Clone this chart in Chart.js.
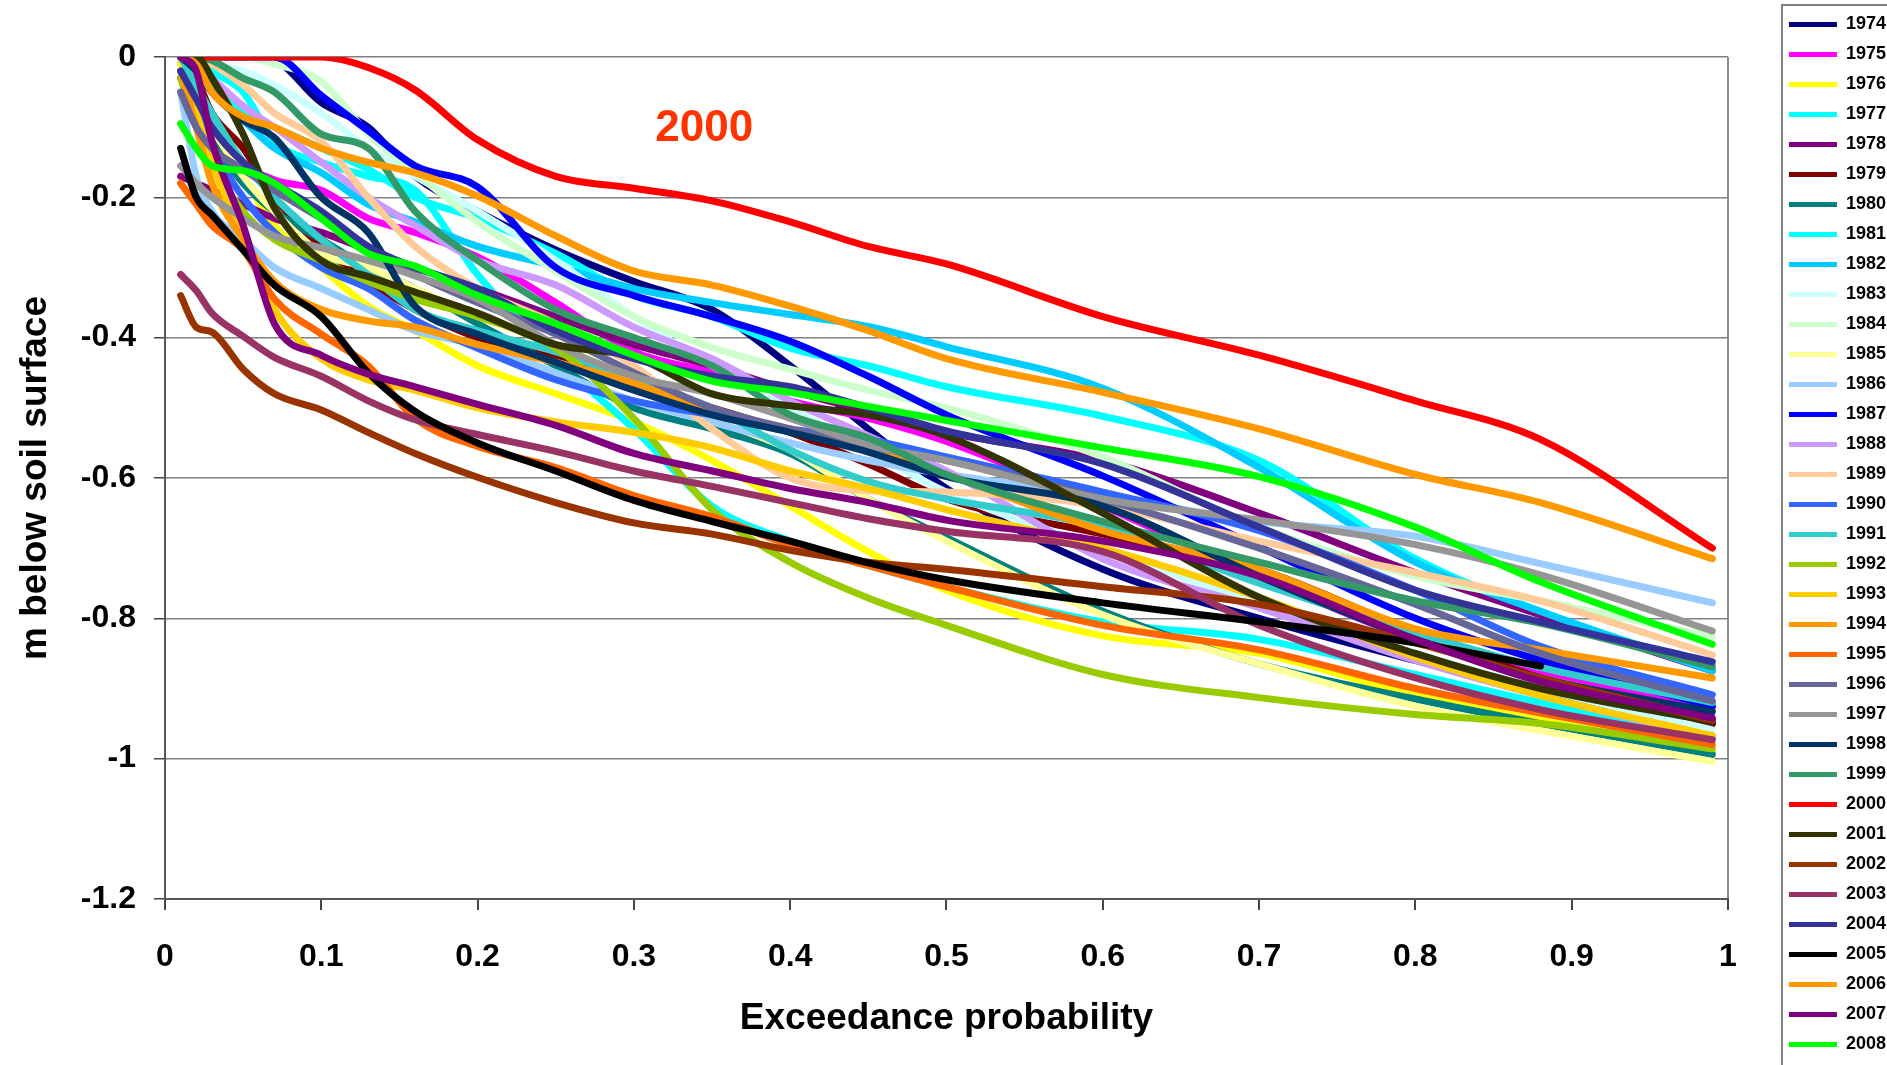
<!DOCTYPE html>
<html>
<head>
<meta charset="utf-8">
<script src="https://cdn.jsdelivr.net/npm/chart.js@4.4.1/dist/chart.umd.min.js"></script>
<style>
  html, body { margin: 0; padding: 0; background: #fff; }
</style>
</head>
<body>
<canvas id="grafico" width="1887" height="1065"></canvas>
<script>
const ctx = document.getElementById('grafico');

// years (legend) and Excel palette colours
const years = ['1974', '1975', '1976', '1977', '1978', '1979', '1980', '1981', '1982', '1983', '1984', '1985',
  '1986', '1987', '1988', '1989', '1990', '1991', '1992', '1993', '1994', '1995', '1996', '1997', '1998', '1999',
  '2000', '2001', '2002', '2003', '2004', '2005', '2006', '2007', '2008'];
const colors = ['#000080', '#FF00FF', '#FFFF00', '#00FFFF', '#800080', '#800000', '#008080', '#00FFFF', '#00CCFF',
  '#CCFFFF', '#CCFFCC', '#FFFF99', '#99CCFF', '#0000FF', '#CC99FF', '#FFCC99', '#3366FF', '#33CCCC', '#99CC00',
  '#FFCC00', '#FF9900', '#FF6600', '#666699', '#969696', '#003366', '#339966', '#FF0000', '#333300', '#993300',
  '#993366', '#333399', '#000000', '#FF9900', '#800080', '#00FF00'];

// exceedance probability (x)
const prob = [0.01, 0.02, 0.03, 0.05, 0.07, 0.1, 0.13, 0.16, 0.2, 0.25, 0.3, 0.35, 0.4, 0.45, 0.5, 0.6, 0.7, 0.8, 0.88, 0.99];

// water table depth, m below soil surface
const d1974 = [0, 0, 0, 0, -0.005, -0.065, -0.1, -0.17, -0.22, -0.275, -0.32, -0.36, -0.44, -0.53, -0.615, -0.73, -0.8, -0.86, -0.905, -0.95];
const d1975 = [-0.01, -0.04, -0.08, -0.15, -0.175, -0.19, -0.23, -0.25, -0.285, -0.35, -0.42, -0.45, -0.49, -0.515, -0.548, -0.64, -0.74, -0.83, -0.875, -0.927];
const d1976 = [-0.01, -0.05, -0.1, -0.17, -0.24, -0.3, -0.355, -0.39, -0.44, -0.48, -0.52, -0.575, -0.64, -0.705, -0.76, -0.825, -0.85, -0.91, -0.945, -0.99];
const d1977 = [0, 0, -0.02, -0.05, -0.12, -0.15, -0.17, -0.19, -0.31, -0.43, -0.53, -0.64, -0.69, -0.725, -0.755, -0.805, -0.83, -0.88, -0.92, -0.97];
const d1978 = [-0.17, -0.18, -0.19, -0.21, -0.23, -0.25, -0.275, -0.3, -0.33, -0.37, -0.41, -0.44, -0.475, -0.505, -0.535, -0.575, -0.65, -0.735, -0.795, -0.875];
const d1979 = [0, -0.03, -0.08, -0.13, -0.2, -0.27, -0.32, -0.36, -0.4, -0.43, -0.47, -0.5, -0.535, -0.58, -0.63, -0.68, -0.73, -0.82, -0.885, -0.95];
const d1980 = [-0.03, -0.08, -0.12, -0.18, -0.22, -0.26, -0.3, -0.33, -0.38, -0.44, -0.5, -0.53, -0.565, -0.63, -0.685, -0.79, -0.865, -0.915, -0.95, -0.994];
const d1981 = [0, -0.01, -0.04, -0.08, -0.1, -0.13, -0.16, -0.2, -0.23, -0.28, -0.34, -0.37, -0.415, -0.44, -0.47, -0.512, -0.575, -0.715, -0.79, -0.872];
const d1982 = [0, -0.02, -0.05, -0.09, -0.13, -0.165, -0.21, -0.235, -0.27, -0.298, -0.33, -0.35, -0.367, -0.384, -0.413, -0.472, -0.585, -0.72, -0.79, -0.875];
const d1983 = [0, 0, -0.01, -0.02, -0.04, -0.08, -0.13, -0.17, -0.22, -0.29, -0.37, -0.44, -0.5, -0.56, -0.62, -0.7, -0.78, -0.85, -0.9, -0.959];
const d1984 = [0, 0, 0, 0, -0.01, -0.035, -0.11, -0.165, -0.235, -0.305, -0.37, -0.414, -0.445, -0.475, -0.5, -0.57, -0.67, -0.74, -0.775, -0.826];
const d1985 = [-0.02, -0.06, -0.1, -0.17, -0.22, -0.28, -0.3, -0.33, -0.37, -0.41, -0.46, -0.515, -0.56, -0.63, -0.69, -0.795, -0.865, -0.925, -0.96, -1.004];
const d1986 = [-0.05, -0.17, -0.22, -0.26, -0.3, -0.33, -0.36, -0.39, -0.41, -0.45, -0.49, -0.52, -0.55, -0.575, -0.595, -0.625, -0.662, -0.683, -0.722, -0.778];
const d1987 = [0, 0, 0, 0, 0, -0.055, -0.105, -0.155, -0.185, -0.3, -0.34, -0.37, -0.405, -0.455, -0.51, -0.597, -0.698, -0.8, -0.86, -0.925];
const d1988 = [0, -0.01, -0.03, -0.07, -0.1, -0.15, -0.2, -0.24, -0.29, -0.325, -0.385, -0.43, -0.49, -0.54, -0.59, -0.715, -0.785, -0.86, -0.91, -0.97];
const d1989 = [0, 0, -0.01, -0.04, -0.08, -0.12, -0.2, -0.27, -0.33, -0.38, -0.44, -0.53, -0.6, -0.618, -0.62, -0.64, -0.69, -0.735, -0.775, -0.852];
const d1990 = [-0.02, -0.08, -0.13, -0.2, -0.25, -0.3, -0.33, -0.375, -0.415, -0.46, -0.49, -0.51, -0.53, -0.545, -0.57, -0.62, -0.675, -0.76, -0.84, -0.909];
const d1991 = [0, -0.04, -0.08, -0.15, -0.2, -0.26, -0.31, -0.36, -0.39, -0.42, -0.46, -0.5, -0.56, -0.605, -0.63, -0.67, -0.75, -0.82, -0.87, -0.92];
const d1992 = [-0.03, -0.1, -0.15, -0.22, -0.26, -0.29, -0.32, -0.345, -0.37, -0.415, -0.515, -0.645, -0.72, -0.771, -0.81, -0.88, -0.913, -0.937, -0.95, -0.986];
const d1993 = [-0.02, -0.08, -0.15, -0.26, -0.36, -0.43, -0.46, -0.475, -0.5, -0.52, -0.535, -0.557, -0.59, -0.615, -0.645, -0.7, -0.77, -0.855, -0.91, -0.967];
const d1994 = [-0.02, -0.1, -0.18, -0.26, -0.32, -0.36, -0.376, -0.385, -0.41, -0.435, -0.465, -0.505, -0.53, -0.56, -0.595, -0.675, -0.73, -0.815, -0.845, -0.885];
const d1995 = [-0.18, -0.21, -0.24, -0.275, -0.345, -0.395, -0.44, -0.515, -0.555, -0.585, -0.625, -0.655, -0.695, -0.725, -0.755, -0.81, -0.845, -0.9, -0.935, -0.98];
const d1996 = [-0.05, -0.1, -0.13, -0.16, -0.19, -0.23, -0.27, -0.31, -0.35, -0.395, -0.45, -0.5, -0.53, -0.555, -0.575, -0.63, -0.7, -0.78, -0.85, -0.918];
const d1997 = [-0.155, -0.18, -0.2, -0.23, -0.255, -0.272, -0.29, -0.312, -0.345, -0.41, -0.455, -0.48, -0.515, -0.553, -0.575, -0.63, -0.66, -0.695, -0.738, -0.818];
const d1998 = [0, -0.02, -0.05, -0.09, -0.115, -0.2, -0.25, -0.355, -0.395, -0.435, -0.475, -0.51, -0.535, -0.563, -0.598, -0.64, -0.74, -0.83, -0.885, -0.933];
const d1999 = [0, 0, -0.005, -0.03, -0.05, -0.11, -0.13, -0.22, -0.29, -0.36, -0.4, -0.44, -0.51, -0.543, -0.595, -0.662, -0.72, -0.775, -0.807, -0.869];
const d2000 = [0, 0, 0, 0, 0, 0, -0.015, -0.047, -0.118, -0.17, -0.187, -0.205, -0.235, -0.27, -0.295, -0.37, -0.425, -0.49, -0.545, -0.70];
const d2001 = [0, 0, -0.03, -0.11, -0.215, -0.29, -0.313, -0.335, -0.365, -0.41, -0.427, -0.48, -0.497, -0.51, -0.54, -0.65, -0.77, -0.85, -0.9, -0.947];
const d2002 = [-0.34, -0.385, -0.392, -0.445, -0.48, -0.503, -0.535, -0.565, -0.599, -0.635, -0.664, -0.68, -0.703, -0.72, -0.73, -0.755, -0.78, -0.835, -0.885, -0.945];
const d2003 = [-0.31, -0.333, -0.365, -0.398, -0.428, -0.455, -0.49, -0.517, -0.538, -0.562, -0.59, -0.612, -0.635, -0.658, -0.676, -0.705, -0.81, -0.885, -0.93, -0.973];
const d2004 = [-0.02, -0.06, -0.1, -0.15, -0.18, -0.22, -0.27, -0.3, -0.33, -0.39, -0.43, -0.455, -0.47, -0.5, -0.533, -0.58, -0.67, -0.76, -0.805, -0.862];
const d2005 = [-0.13, -0.2, -0.225, -0.275, -0.325, -0.37, -0.45, -0.505, -0.55, -0.59, -0.632, -0.662, -0.69, -0.721, -0.745, -0.778, -0.805, -0.835, -0.868, null];
const d2006 = [0, -0.01, -0.05, -0.085, -0.1, -0.13, -0.15, -0.165, -0.198, -0.255, -0.305, -0.325, -0.355, -0.39, -0.43, -0.478, -0.53, -0.595, -0.635, -0.715];
const d2007 = [0, -0.02, -0.12, -0.24, -0.38, -0.425, -0.452, -0.47, -0.495, -0.525, -0.565, -0.59, -0.615, -0.635, -0.66, -0.69, -0.74, -0.83, -0.89, -0.942];
const d2008 = [-0.095, -0.13, -0.155, -0.162, -0.18, -0.23, -0.28, -0.298, -0.34, -0.38, -0.425, -0.462, -0.478, -0.498, -0.518, -0.557, -0.598, -0.67, -0.748, -0.837];

const depths = [d1974, d1975, d1976, d1977, d1978, d1979, d1980, d1981, d1982, d1983, d1984, d1985, d1986, d1987,
  d1988, d1989, d1990, d1991, d1992, d1993, d1994, d1995, d1996, d1997, d1998, d1999, d2000, d2001, d2002, d2003,
  d2004, d2005, d2006, d2007, d2008];

// axis ticks
const xTicks = [0, 0.1, 0.2, 0.3, 0.4, 0.5, 0.6, 0.7, 0.8, 0.9, 1];
const xTickLabels = ['0', '0.1', '0.2', '0.3', '0.4', '0.5', '0.6', '0.7', '0.8', '0.9', '1'];
const yTicks = [-1.2, -1, -0.8, -0.6, -0.4, -0.2, 0];
const yTickLabels = ['-1.2', '-1', '-0.8', '-0.6', '-0.4', '-0.2', '0'];

// the "2000" note in the plot
const noteText = '2000';
const noteAt = [0.345, -0.103];

Chart.defaults.font.family = '"Liberation Sans", Arial, sans-serif';
Chart.defaults.font.weight = 'bold';
Chart.defaults.color = '#000';

const extras = {
  id: 'extras',
  afterLayout(chart) {
    // legend sits a bit right of the plot, like the excel one
    const lg = chart.legend;
    const w = lg.width;
    lg.left = chart.chartArea.right + 49;
    lg.right = lg.left + w;
    lg.top += 2;
    lg.bottom += 2;
  },
  afterDatasetsDraw(chart) {
    const c = chart.ctx;
    const {x, y} = chart.scales;
    c.save();
    c.font = 'bold 44px "Liberation Sans", Arial, sans-serif';
    c.fillStyle = '#FF3300';
    c.textAlign = 'center';
    c.textBaseline = 'middle';
    c.fillText(noteText, x.getPixelForValue(noteAt[0]), y.getPixelForValue(noteAt[1]));
    c.restore();
  },
  afterDraw(chart) {
    const c = chart.ctx;
    c.save();
    c.strokeStyle = '#808080';
    c.lineWidth = 2;
    c.strokeRect(chart.legend.left + 5, 5, 400, 1200);
    c.restore();
  }
};

new Chart(ctx, {
  type: 'line',
  data: {
    datasets: years.map((yr, i) => ({
      label: yr,
      data: prob.map((p, j) => ({x: p, y: depths[i][j]})),
      borderColor: colors[i],
      backgroundColor: colors[i],
      borderWidth: 7,
      pointRadius: 0,
      borderJoinStyle: 'round',
      borderCapStyle: 'round',
      cubicInterpolationMode: 'monotone',
      order: years.length - i
    }))
  },
  options: {
    responsive: false,
    animation: false,
    layout: { padding: { top: 0, right: 40, bottom: 0, left: 0 } },
    plugins: {
      tooltip: { enabled: false },
      // empty title only keeps the plot 57px down without shortening the legend
      title: {
        display: true,
        text: '',
        font: { size: 10 },
        padding: { top: 45, bottom: 0 }
      },
      legend: {
        position: 'right',
        align: 'center',
        labels: {
          boxWidth: 48,
          boxHeight: 5,
          padding: 12,
          color: '#000',
          font: { size: 18, weight: 'bold' },
          sort: (a, b) => a.datasetIndex - b.datasetIndex,
          generateLabels: c => Chart.defaults.plugins.legend.labels.generateLabels(c)
            .map(l => Object.assign(l, { lineWidth: 0 }))
        }
      }
    },
    scales: {
      x: {
        type: 'linear',
        min: 0,
        max: 1,
        afterBuildTicks: s => { s.ticks = xTicks.map(v => ({ value: v })); },
        afterFit: s => { s.height = 166; },
        ticks: {
          callback: (v, i) => xTickLabels[i],
          font: { size: 32, weight: 'bold' },
          color: '#000',
          padding: 28,
          maxRotation: 0,
          autoSkip: false
        },
        grid: {
          color: c => (c.tick && c.tick.value === 1) ? '#8c8c8c' : 'rgba(0,0,0,0)',
          lineWidth: 2,
          tickColor: '#444',
          tickLength: 11
        },
        border: { color: '#555', width: 2 },
        title: {
          display: true,
          text: 'Exceedance probability',
          font: { size: 37, weight: 'bold' },
          color: '#000',
          padding: { top: 20, bottom: 24 }
        }
      },
      y: {
        type: 'linear',
        min: -1.2,
        max: 0,
        afterBuildTicks: s => { s.ticks = yTicks.map(v => ({ value: v })); },
        afterFit: s => { s.width = 165; },
        ticks: {
          callback: (v, i) => yTickLabels[i],
          font: { size: 32, weight: 'bold' },
          color: '#000',
          padding: 18
        },
        grid: {
          color: '#808080',
          lineWidth: 1.5,
          tickColor: '#444',
          tickLength: 11
        },
        border: { color: '#555', width: 2 },
        title: {
          display: true,
          text: 'm below soil surface',
          font: { size: 37, weight: 'bold' },
          color: '#000',
          padding: { top: 14, bottom: 0 }
        }
      }
    }
  },
  plugins: [extras]
});
</script>
</body>
</html>
